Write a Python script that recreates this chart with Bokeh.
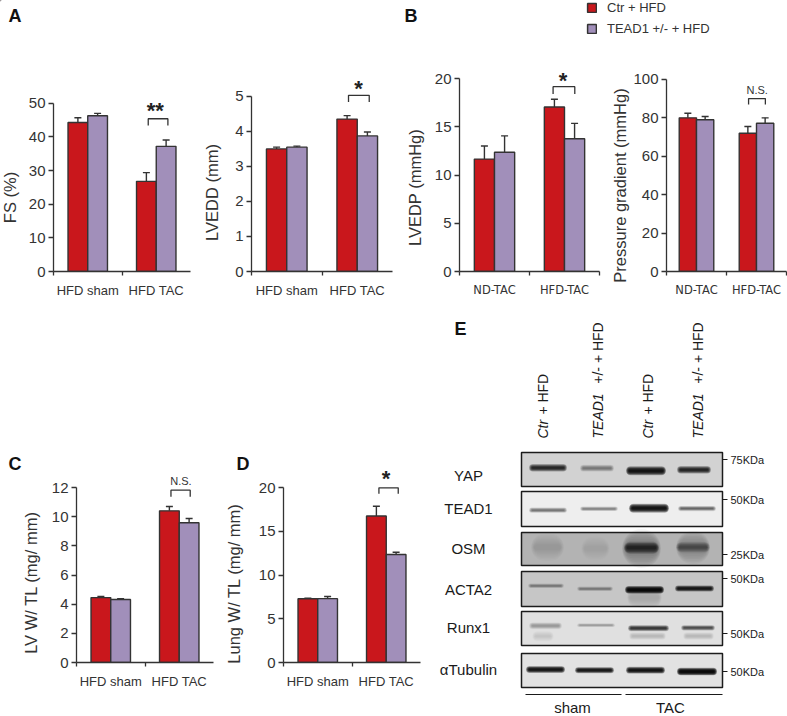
from math import pi
from bokeh.plotting import figure
from bokeh.layouts import column, row
from bokeh.embed import file_html
from bokeh.resources import INLINE
from bokeh.core.properties import value
from bokeh.models import (Range1d, FixedTicker, Whisker, TeeHead, ColumnDataSource,
                          Legend, LegendItem)

RED = "#C9171C"
PURPLE = "#A18FBA"
INK = "#333333"
SANS = "Liberation Sans"

groups_hfd = ["HFD sham", "HFD TAC"]
groups_tac = ["ND-TAC", "HFD-TAC"]
series_names = ["Ctr + HFD", "TEAD1 +/- + HFD"]

fs_ctr, fs_ctr_hi = [44.3, 26.8], [45.7, 29.4]
fs_kd, fs_kd_hi = [46.3, 37.2], [47.0, 39.1]
lvedd_ctr, lvedd_ctr_hi = [3.5, 4.35], [3.55, 4.45]
lvedd_kd, lvedd_kd_hi = [3.55, 3.87], [3.58, 3.98]
lvedp_ctr, lvedp_ctr_hi = [11.65, 17.05], [13.0, 17.85]
lvedp_kd, lvedp_kd_hi = [12.35, 13.75], [14.05, 15.35]
pg_ctr, pg_ctr_hi = [80.0, 72.0], [82.4, 75.5]
pg_kd, pg_kd_hi = [79.0, 77.2], [80.7, 80.0]
lvw_ctr, lvw_ctr_hi = [4.45, 10.4], [4.53, 10.7]
lvw_kd, lvw_kd_hi = [4.32, 9.58], [4.38, 9.87]
lung_ctr, lung_ctr_hi = [7.28, 16.75], [7.35, 17.85]
lung_kd, lung_kd_hi = [7.3, 12.35], [7.55, 12.6]

# blot: row name, box top, box bottom, box grey
blot_rows = ["YAP", "TEAD1", "OSM", "ACTA2", "Runx1", "\u03b1Tubulin"]
blot_top = [452, 491, 532, 571, 611, 653]
blot_bot = [486, 526, 565, 606, 645, 687]
blot_bg = ["#d2d2d2", "#eeeeee", "#b3b3b3", "#c6c6c6", "#e0e0e0", "#e2e2e2"]
blot_label_y = [475, 508, 548, 589, 627, 669]
# bands: x-left, x-right, y-centre, thickness, darkness
band_x0 = [530, 581, 627, 678,  530, 581, 630, 679,  532, 582, 623, 677, 625, 677,
           529, 578, 626, 676, 628,  530, 533, 578, 629, 682, 630, 684,  527, 576, 627, 678]
band_x1 = [565, 612, 664, 709,  565, 616, 667, 714,  562, 608, 659, 708, 657, 708,
           562, 611, 662, 712, 660,  560, 552, 613, 667, 713, 664, 712,  563, 612, 663, 715]
band_y = [467.3, 467.7, 470.3, 469.3,  509.7, 508.3, 507.7, 508,  546.7, 548, 548, 547, 547.3, 546.7,
          585.3, 588.3, 589.3, 588, 597,  625.3, 635.7, 624.7, 627.7, 627.3, 635.5, 635.5,  669, 669.7, 669.7, 671]
band_h = [5, 4.5, 6, 5,  3.5, 3, 6, 3.5,  18, 16, 26, 22, 8, 7,
          3, 3, 5, 4, 14,  4.5, 7, 2.5, 4, 3.5, 5, 5,  4.5, 4, 4.5, 5]
band_d = [.8, .42, .9, .82,  .5, .45, .9, .55,  .13, .08, .3, .25, .7, .45,
          .4, .4, .95, .88, .12,  .3, .1, .3, .75, .65, .15, .15,  .9, .88, .9, .95]

kda_labels = ["75KDa", "50KDa", "25KDa", "50KDa", "50KDa", "50KDa"]
kda_y = [459, 499, 554, 578, 633, 671]

lane_x = [542, 597, 647, 697]
lane_ital = ["Ctr", "TEAD1", "Ctr", "TEAD1"]
lane_rest = ["\u00a0+ HFD", "\u00a0\u00a0+/- + HFD", "\u00a0+ HFD", "\u00a0\u00a0+/- + HFD"]


def panel(fl, fr, ft, fb, ax_l, ax_r, y0_px, ytop_px, ymax, yticks, groups,
          ctr, ctr_hi, kd, kd_hi, x_ticks, label_font, label_size,
          bracket, mark, bar_w=0.288, mark_size="22px", mark_offset=3):
    h = fb - ft
    y_end = ymax * (y0_px - ft) / (y0_px - ytop_px)
    p = figure(width=fr - fl, height=h, output_backend="svg", toolbar_location=None,
               x_range=Range1d(0, 2), y_range=Range1d(0, y_end),
               min_border_left=ax_l - fl, min_border_right=fr - ax_r,
               min_border_top=0, min_border_bottom=fb - y0_px)
    p.outline_line_color = None
    p.background_fill_color = None
    p.border_fill_color = None
    p.grid.visible = False
    ya, xa = p.yaxis[0], p.xaxis[0]
    ya.ticker = FixedTicker(ticks=yticks)
    ya.bounds = (0, ymax)
    ya.major_tick_out, ya.major_tick_in, ya.minor_tick_out, ya.minor_tick_in = 5, 0, 0, 0
    ya.major_label_standoff = 3
    ya.major_label_text_font = SANS
    ya.major_label_text_font_size = "15px"
    ya.major_label_text_color = INK
    ya.axis_line_color = INK
    ya.major_tick_line_color = INK
    ya.axis_line_width = 1.3
    ya.major_tick_line_width = 1.3
    xa.ticker = FixedTicker(ticks=[0.5, 1.5], minor_ticks=x_ticks)
    xa.major_label_overrides = {0.5: groups[0], 1.5: groups[1]}
    xa.bounds = (0, 2)
    xa.major_tick_out, xa.major_tick_in = 0, 0
    xa.minor_tick_out, xa.minor_tick_in = 4, 0
    xa.major_label_standoff = 7
    xa.major_label_text_font = label_font
    xa.major_label_text_font_size = label_size
    xa.major_label_text_color = INK
    xa.axis_line_color = INK
    xa.minor_tick_line_color = INK
    xa.axis_line_width = 1.3
    xa.minor_tick_line_width = 1.3

    xc = [0.5, 1.5]
    for offs, vals, hi, color in ((-bar_w / 2, ctr, ctr_hi, RED), (bar_w / 2, kd, kd_hi, PURPLE)):
        xs = [c + offs for c in xc]
        src = ColumnDataSource(dict(x=xs, top=vals, hi=hi))
        p.add_layout(Whisker(source=src, base="x", lower="top", upper="hi", dimension="height",
                             lower_head=None, upper_head=TeeHead(size=7, line_color=INK, line_width=1.4),
                             line_color=INK, line_width=1.4))
        p.vbar(x="x", top="top", bottom=0, width=bar_w, source=src, fill_color=color,
               line_color=INK, line_width=1.4)
    x0, x1, hi, lo, mx, my = bracket
    p.line([x0, x0, x1, x1], [lo, hi, hi, lo], line_color=INK, line_width=1.3)
    if mark == "N.S.":
        p.text([mx], [my], text=[mark], text_font=value(SANS), text_font_size="11px",
               text_align="center", text_baseline="middle", text_color=INK)
    else:
        p.text([mx], [my], text=[mark], text_font=value(SANS), text_font_size=mark_size,
               text_font_style="bold", text_align="center", text_baseline="alphabetic",
               text_color="#222222", y_offset=mark_offset)
    return p


def plain_fig(x0, x1, y0, y1, items, title=None):
    p = figure(width=x1 - x0, height=y1 - y0, output_backend="svg", toolbar_location=None,
               x_range=Range1d(x0, x1), y_range=Range1d(y1, y0), min_border=0,
               x_axis_location=None, y_axis_location=None)
    p.outline_line_color = None
    p.grid.visible = False
    p.background_fill_color = None
    p.border_fill_color = None
    for t, x, y in items:
        p.text([x], [y], text=[t], text_font=value(SANS), text_font_size="18px",
               text_font_style="bold", text_align="left", text_baseline="middle",
               text_color="#111111")
    if title:
        t, x, y = title
        p.text([x], [y], text=[t], text_font=value(SANS), text_font_size="16.5px", angle=pi / 2,
               text_align="center", text_baseline="middle", text_color=INK)
    return p


header = plain_fig(0, 787, 0, 60, [("A", 8, 15), ("B", 404, 15)])
r1 = header.vbar(x=[-100], top=[-100], bottom=[-110], width=5, fill_color=RED, line_color=INK, line_width=1.5)
r2 = header.vbar(x=[-100], top=[-100], bottom=[-110], width=5, fill_color=PURPLE, line_color=INK, line_width=1.5)
legend = Legend(items=[LegendItem(label=series_names[0], renderers=[r1]),
                       LegendItem(label=series_names[1], renderers=[r2])],
                location=(586, 24), orientation="vertical", border_line_color=None,
                background_fill_alpha=0, glyph_width=11, glyph_height=11, label_standoff=10,
                spacing=6, padding=0, margin=0, label_text_font=SANS,
                label_text_font_size="13px", label_text_color=INK)
header.add_layout(legend, "center")

s_a1 = plain_fig(0, 21, 60, 310, [], ("FS (%)", 9, 197))
a1 = panel(21, 200, 60, 310, 53, 190, 272, 103, 50, [0, 10, 20, 30, 40, 50], groups_hfd,
           fs_ctr, fs_ctr_hi, fs_kd, fs_kd_hi, [0, 1], SANS, "13px",
           (1.383, 1.67, 45.4, 43.4, 1.485, 48.8), "**")
s_a2 = plain_fig(200, 222, 60, 310, [], ("LVEDD (mm)", 211, 192))
a2 = panel(222, 400, 60, 310, 251, 392, 272, 96, 5, [0, 1, 2, 3, 4, 5], groups_hfd,
           lvedd_ctr, lvedd_ctr_hi, lvedd_kd, lvedd_kd_hi, [0, 1], SANS, "13px",
           (1.376, 1.67, 5.03, 4.84, 1.518, 5.31), "*")
s_b1 = plain_fig(400, 425, 60, 310, [], ("LVEDP (mmHg)", 414, 187))
b1 = panel(425, 605, 60, 310, 459, 599, 271, 78, 20, [0, 5, 10, 15, 20], groups_tac,
           lvedp_ctr, lvedp_ctr_hi, lvedp_kd, lvedp_kd_hi, [0, 1, 2], "DejaVu Sans", "11.5px",
           (1.337, 1.647, 19.15, 18.4, 1.48, 20.1), "*")
s_b2 = plain_fig(605, 630, 60, 310, [], ("Pressure gradient (mmHg)", 619.5, 185))
b2 = panel(630, 787, 60, 310, 664, 786, 272, 79, 100, [0, 20, 40, 60, 80, 100], groups_tac,
           pg_ctr, pg_ctr_hi, pg_kd, pg_kd_hi, [0, 1, 2], "DejaVu Sans", "11.5px",
           (1.368, 1.648, 90, 87, 1.511, 94.5), "N.S.")
s_c = plain_fig(0, 45, 310, 716, [("C", 8, 463)], ("LV W/ TL (mg/ mm)", 30, 582))
c = panel(45, 225, 310, 716, 76, 213, 662, 487, 12, [0, 2, 4, 6, 8, 10, 12], groups_hfd,
          lvw_ctr, lvw_ctr_hi, lvw_kd, lvw_kd_hi, [0, 1], SANS, "13px",
          (1.379, 1.66, 11.82, 11.36, 1.524, 12.46), "N.S.")
s_d = plain_fig(225, 250, 310, 716, [("D", 236, 463)], ("Lung W/ TL (mg/ mm)", 233, 583))
d = panel(250, 435, 310, 716, 283, 420, 662, 487, 20, [0, 5, 10, 15, 20], groups_hfd,
          lung_ctr, lung_ctr_hi, lung_kd, lung_kd_hi, [0, 1], SANS, "13px",
          (1.393, 1.675, 19.96, 19.3, 1.495, 21.4), "*")

# western blot panel
e = plain_fig(435, 787, 310, 716, [("E", 454, 328)])
BLACK = "#1a1a1a"
for top, bot, bg in zip(blot_top, blot_bot, blot_bg):
    e.quad(left=[521], right=[722], top=[top], bottom=[bot], fill_color=bg, line_color=None)
# soft bands: stacked translucent round-capped strokes
N_LAYERS = 9
for i in range(N_LAYERS):
    t = i / (N_LAYERS - 1)
    widths = [h * (1.5 - 1.2 * t) for h in band_h]
    alphas = [1 - (1 - min(dk, 0.985)) ** (1 / N_LAYERS) for dk in band_d]
    grow = 1.5 - 3 * t
    xs0 = [a + lw / 2 - grow for a, lw in zip(band_x0, widths)]
    xs1 = [b - lw / 2 + grow for b, lw in zip(band_x1, widths)]
    src = ColumnDataSource(dict(x0=xs0, x1=xs1, y=band_y, w=widths, a=alphas))
    e.segment(x0="x0", x1="x1", y0="y", y1="y", line_width="w", line_alpha="a", line_color="#000000",
              line_cap="round", source=src)
for top, bot in zip(blot_top, blot_bot):
    e.quad(left=[521], right=[722], top=[top], bottom=[bot], fill_color=None,
           line_color="#1c1c1c", line_width=1.5)
for name, y in zip(blot_rows, blot_label_y):
    e.text([468], [y], text=[name], text_font=value(SANS), text_font_size="15px",
           text_align="center", text_baseline="middle", text_color=BLACK)
e.segment(x0=[722] * 6, x1=[727] * 6, y0=kda_y, y1=kda_y, line_color=BLACK, line_width=1)
e.text([730] * 6, kda_y, text=kda_labels, text_font=value(SANS), text_font_size="11px",
       text_align="left", text_baseline="middle", text_color=BLACK)
for x, it, rest in zip(lane_x, lane_ital, lane_rest):
    e.text([x], [438], text=[it], text_font=value(SANS), text_font_size="14px", text_font_style="italic",
           angle=pi / 2, text_align="left", text_baseline="middle", text_color=BLACK)
    ofs = 20 if it == "Ctr" else 47
    e.text([x], [438 - ofs], text=[rest], text_font=value(SANS), text_font_size="14px",
           angle=pi / 2, text_align="left", text_baseline="middle", text_color=BLACK)
e.segment(x0=[525, 625], x1=[621, 722], y0=[694, 694], y1=[694, 694], line_color=BLACK, line_width=1.2)
e.text([572, 670], [707, 707], text=["sham", "TAC"], text_font=value(SANS), text_font_size="15px",
       text_align="center", text_baseline="middle", text_color=BLACK)

layout = column(
    header,
    row(column(s_a1), a1, column(s_a2), a2, column(s_b1), b1, column(s_b2), b2),
    row(column(s_c), c, column(s_d), d, column(e)),
)
open("out.html", "w").write(file_html(layout, INLINE))
